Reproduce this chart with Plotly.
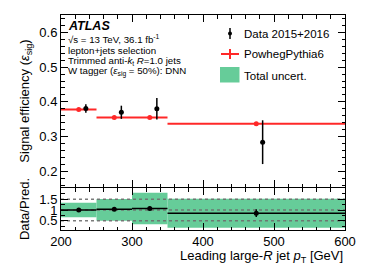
import plotly.graph_objects as go

# ---------------- data ----------------
bin_lo = [200, 250, 300, 350]
bin_hi = [250, 300, 350, 600]
bin_center = [225, 275, 325, 475]
bin_halfw = [25, 25, 25, 125]

data_x = [235, 285, 335, 484]          # data markers drawn slightly offset
data_eff = [0.381, 0.370, 0.380, 0.284]
data_err = [0.012, 0.019, 0.031, 0.063]

mc_eff = [0.378, 0.355, 0.355, 0.337]
mc_err = [0.003, 0.003, 0.003, 0.005]

ratio_val = [1.00, 1.03, 1.07, 0.85]
ratio_err = [0.03, 0.05, 0.08, 0.18]
band_lo = [0.66, 0.50, 0.34, 0.18]
band_hi = [1.34, 1.51, 1.80, 1.52]

xticks = [200, 300, 400, 500, 600]

FONT = "Liberation Sans, Arial, Helvetica, sans-serif"
GREEN = "rgb(102,204,153)"
RED = "rgb(255,40,40)"

# page body has an 8px default margin; compensate so the figure fills the 374x268 window
BODY = 8

fig = go.Figure()

# ---- ratio panel: uncertainty band ----
fig.add_trace(go.Bar(
    x=bin_center, y=[h - l for h, l in zip(band_hi, band_lo)], base=band_lo,
    width=[2 * w for w in bin_halfw], marker=dict(color=GREEN, line=dict(width=0)),
    xaxis="x2", yaxis="y2", showlegend=False, hoverinfo="skip"))

# dotted reference lines in ratio
for yv in [0.5, 1.0, 1.5]:
    fig.add_trace(go.Scatter(
        x=[200, 600], y=[yv, yv], mode="lines",
        line=dict(color="rgba(110,110,110,0.9)", width=1.5, dash="dot"),
        xaxis="x2", yaxis="y2", showlegend=False, hoverinfo="skip"))

# ratio points
fig.add_trace(go.Scatter(
    x=bin_center, y=ratio_val, mode="markers",
    marker=dict(color="black", size=5),
    error_x=dict(type="data", array=bin_halfw, color="black", thickness=1.5, width=0),
    error_y=dict(type="data", array=ratio_err, color="black", thickness=1.5, width=0),
    xaxis="x2", yaxis="y2", showlegend=False))

# ---- main panel: MC ----
fig.add_trace(go.Scatter(
    x=bin_center, y=mc_eff, mode="markers",
    marker=dict(color=RED, size=5),
    error_x=dict(type="data", array=bin_halfw, color=RED, thickness=2, width=0),
    error_y=dict(type="data", array=mc_err, color=RED, thickness=2, width=0),
    xaxis="x", yaxis="y", showlegend=False))

# ---- main panel: data ----
fig.add_trace(go.Scatter(
    x=data_x, y=data_eff, mode="markers",
    marker=dict(color="black", size=5),
    error_y=dict(type="data", array=data_err, color="black", thickness=1.5, width=0),
    xaxis="x", yaxis="y", showlegend=False))

axis_common = dict(
    showline=True, linecolor="black", linewidth=1, mirror="ticks",
    ticks="inside", tickcolor="black", ticklen=7, tickwidth=1,
    showgrid=False, zeroline=False, automargin=False,
    tickfont=dict(family=FONT, size=13, color="black"),
)

fig.update_layout(
    template="none",
    width=374 - BODY, height=268 - BODY,
    margin=dict(l=61 - BODY, r=29, t=15 - BODY, b=38, autoexpand=False),
    paper_bgcolor="white", plot_bgcolor="white",
    font=dict(family=FONT, color="black"),
    barmode="overlay", showlegend=False,
    xaxis=dict(domain=[0, 1], range=[200, 600], anchor="y", showticklabels=False,
               tickvals=xticks, minor=dict(ticks="inside", ticklen=3.5, dtick=20, tickcolor="black"),
               **axis_common),
    yaxis=dict(domain=[0.2, 1], range=[0.155, 0.65], anchor="x", dtick=0.1,
               tickformat=".1f",
               minor=dict(ticks="inside", ticklen=3.5, dtick=0.02, tickcolor="black"),
               title=dict(text="Signal efficiency (<i>ε</i><sub>sig</sub>)",
                          font=dict(family=FONT, size=13), standoff=6),
               **axis_common),
    xaxis2=dict(domain=[0, 1], range=[200, 600], anchor="y2",
                tickvals=xticks, ticklabelstandoff=-1,
                minor=dict(ticks="inside", ticklen=3.5, dtick=20, tickcolor="black"),
                **axis_common),
    yaxis2=dict(domain=[0, 0.195], range=[0.07, 2.02], anchor="x2",
                tickvals=[0.5, 1, 1.5], ticktext=["0.5", "1", "1.5"],
                minor=dict(ticks="inside", ticklen=3.5, dtick=0.25, tickcolor="black"),
                title=dict(text="Data/Pred.", font=dict(family=FONT, size=13), standoff=6),
                **axis_common),
)

def px(xp):
    return (xp - 61) / 284.0

def py(yp):
    return (230 - yp) / 215.0

ann = []
ann.append(dict(text="<b><i>ATLAS</i></b>", x=px(66), y=py(25.5), size=12.5))
ann.append(dict(text="√s = 13 TeV, 36.1 fb<sup>-1</sup>", x=px(66), y=py(39), size=9.7))
ann.append(dict(text="lepton+jets selection", x=px(66), y=py(50.5), size=9.7))
ann.append(dict(text="Trimmed anti-<i>k</i><sub>t</sub> <i>R</i>=1.0 jets", x=px(66), y=py(61.5), size=9.7))
ann.append(dict(text="W tagger (<i>ε</i><sub>sig</sub> = 50%): DNN", x=px(66), y=py(72), size=9.7))
ann.append(dict(text="Data 2015+2016", x=px(242), y=py(33.5), size=11.5))
ann.append(dict(text="PowhegPythia6", x=px(242), y=py(54.5), size=11.5))
ann.append(dict(text="Total uncert.", x=px(242), y=py(75.5), size=11.5))
for a in ann:
    fig.add_annotation(text=a["text"], x=a["x"], y=a["y"], xref="paper", yref="paper",
                       xanchor="left", yanchor="middle", showarrow=False,
                       font=dict(family=FONT, size=a["size"], color="black"))

fig.add_annotation(text="Leading large-<i>R</i> jet <i>p</i><sub>T</sub> [GeV]",
                   x=1.0, y=py(256), xref="paper", yref="paper",
                   xanchor="right", yanchor="middle", showarrow=False,
                   font=dict(family=FONT, size=13, color="black"))

# legend symbols (paper coordinates)
shapes = []
shapes.append(dict(type="line", x0=px(230), x1=px(230), y0=py(28), y1=py(39),
                   line=dict(color="black", width=1.5)))
shapes.append(dict(type="circle", x0=px(228), x1=px(232), y0=py(35.5), y1=py(31.5),
                   fillcolor="black", line=dict(color="black", width=0)))
shapes.append(dict(type="line", x0=px(221), x1=px(239), y0=py(54), y1=py(54),
                   line=dict(color=RED, width=2)))
shapes.append(dict(type="line", x0=px(230), x1=px(230), y0=py(49), y1=py(59),
                   line=dict(color=RED, width=2)))
shapes.append(dict(type="rect", x0=px(220), x1=px(239.5), y0=py(82.5), y1=py(67),
                   fillcolor=GREEN, line=dict(width=0)))
for s in shapes:
    s.update(xref="paper", yref="paper")
    fig.add_shape(**s)

fig.write_html("out.html")
